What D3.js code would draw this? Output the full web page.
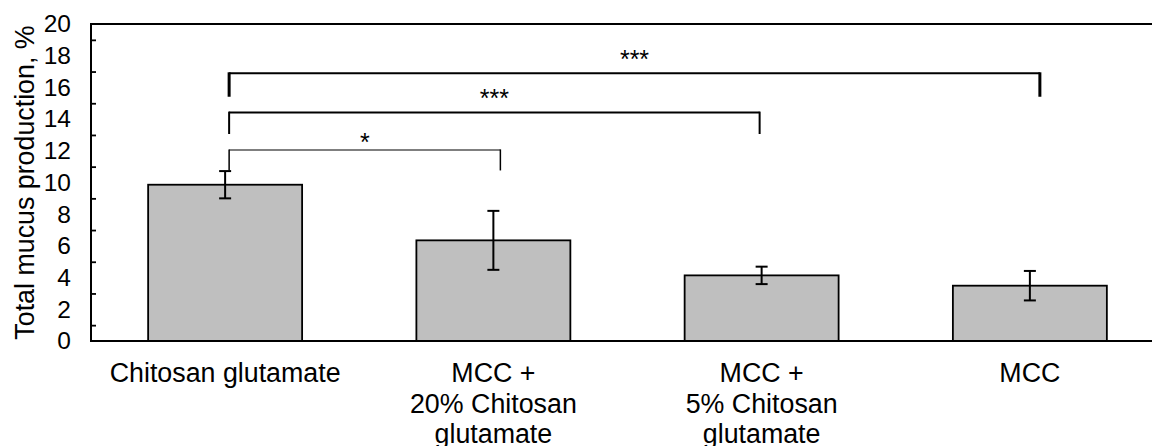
<!DOCTYPE html>
<html>
<head>
<meta charset="utf-8">
<script src="https://cdn.jsdelivr.net/npm/d3@7"></script>
<style>
  html, body { margin: 0; padding: 0; background: #fff; }
  svg { display: block; font-family: "Liberation Sans", Arial, sans-serif; }
</style>
</head>
<body>
<svg id="chart" width="1152" height="446"></svg>
<script>
// ---- data ----
const categories = ["Chitosan glutamate", "MCC + 20% Chitosan glutamate", "MCC + 5% Chitosan glutamate", "MCC"];
const categoryLines = [["Chitosan glutamate"], ["MCC +", "20% Chitosan", "glutamate"], ["MCC +", "5% Chitosan", "glutamate"], ["MCC"]];
const means = [9.86, 6.35, 4.14, 3.49];
const errors = [0.86, 1.86, 0.55, 0.93];
const yTicks = [0, 2, 4, 6, 8, 10, 12, 14, 16, 18, 20];
const yMinorTicks = [1, 3, 5, 7, 9, 11, 13, 15, 17, 19];
const yTitle = "Total mucus production, %";
// significance brackets
const bracketFrom = [0, 0, 0];
const bracketTo = [3, 2, 1];
const bracketLevel = [16.89, 14.41, 12.05];
const bracketDrop = [15.41, 13.06, 10.76];
const bracketLabels = ["***", "***", "*"];
const bracketLabelLevel = [17.2, 14.75, 11.98];

(function () {
// ---- layout ----
const svg = d3.select("#chart");
const mLeft = 91, mTop = 24, mBottom = 341, mRight = 1164;

const x = d3.scaleBand().domain(categories).range([mLeft, mRight])
  .paddingInner(0.426).paddingOuter(0.213);
const y = d3.scaleLinear().domain([0, 20]).range([mBottom, mTop]);

// bars
svg.append("g").selectAll("rect").data(categories).join("rect")
  .attr("x", d => x(d))
  .attr("y", (d, i) => y(means[i]))
  .attr("width", x.bandwidth())
  .attr("height", (d, i) => y(0) - y(means[i]))
  .attr("fill", "#bfbfbf")
  .attr("stroke", "#000")
  .attr("stroke-width", 1.8);

// error bars
const eg = svg.append("g").attr("stroke", "#000").attr("stroke-width", 2);
categories.forEach((c, i) => {
  const cx = x(c) + x.bandwidth() / 2;
  eg.append("line").attr("x1", cx).attr("x2", cx)
    .attr("y1", y(means[i] + errors[i])).attr("y2", y(means[i] - errors[i]));
  [means[i] + errors[i], means[i] - errors[i]].forEach(v => {
    eg.append("line").attr("x1", cx - 6).attr("x2", cx + 6)
      .attr("y1", y(v)).attr("y2", y(v));
  });
});

// frame: top, left, bottom
svg.append("line").attr("x1", mLeft).attr("x2", 1152).attr("y1", y(20)).attr("y2", y(20))
  .attr("stroke", "#000").attr("stroke-width", 1.8);
svg.append("line").attr("x1", mLeft).attr("x2", 1152).attr("y1", y(0)).attr("y2", y(0))
  .attr("stroke", "#000").attr("stroke-width", 2);
svg.append("line").attr("x1", mLeft).attr("x2", mLeft).attr("y1", y(20) - 1).attr("y2", y(0) + 1)
  .attr("stroke", "#000").attr("stroke-width", 2);

// y axis labels
const yAxis = d3.axisLeft(y).tickValues(yTicks).tickSize(0).tickPadding(20);
const ya = svg.append("g").attr("transform", `translate(${mLeft},0)`).call(yAxis);
ya.select(".domain").remove();
ya.selectAll("text").attr("font-size", 24.5).attr("fill", "#000")
  .attr("font-family", "Liberation Sans, Arial, sans-serif");

// minor inside ticks
const yMinor = d3.axisRight(y).tickValues(yMinorTicks).tickSize(5).tickFormat("");
const ym = svg.append("g").attr("transform", `translate(${mLeft},0)`).call(yMinor);
ym.select(".domain").remove();
ym.selectAll("line").attr("stroke", "#000").attr("stroke-width", 1.8);

// y title
svg.append("text")
  .attr("transform", `translate(34,${(y(0) + y(20)) / 2}) rotate(-90)`)
  .attr("text-anchor", "middle")
  .attr("font-size", 26.8)
  .attr("fill", "#000")
  .text(yTitle);

// category labels
categoryLines.forEach((lines, i) => {
  const cx = x(categories[i]) + x.bandwidth() / 2;
  const t = svg.append("text").attr("text-anchor", "middle")
    .attr("font-size", 26.8).attr("fill", "#000");
  lines.forEach((ln, j) => {
    t.append("tspan").attr("x", cx).attr("y", 382.3 + j * 30.3).text(ln);
  });
});

// significance brackets
const bw = [2, 2, 1.2];
const vw = [3, 2, 1.5];
const rightNudge = [10, -2, 7];
bracketFrom.forEach((f, k) => {
  const x1 = x(categories[f]) + x.bandwidth() / 2 + 4;
  const x2 = x(categories[bracketTo[k]]) + x.bandwidth() / 2 + rightNudge[k];
  const yl = y(bracketLevel[k]);
  const bg = svg.append("g").attr("stroke", "#000").attr("fill", "none");
  bg.append("line").attr("x1", x1).attr("x2", x2).attr("y1", yl).attr("y2", yl)
    .attr("stroke-width", bw[k]);
  bg.append("line").attr("x1", x1).attr("x2", x1).attr("y1", yl - bw[k] / 2).attr("y2", y(bracketDrop[k]))
    .attr("stroke-width", vw[k]);
  bg.append("line").attr("x1", x2).attr("x2", x2).attr("y1", yl - bw[k] / 2).attr("y2", y(bracketDrop[k]))
    .attr("stroke-width", vw[k]);
  svg.append("text").attr("x", (x1 + x2) / 2).attr("y", y(bracketLabelLevel[k]))
    .attr("text-anchor", "middle").attr("font-size", 25).attr("fill", "#000")
    .text(bracketLabels[k]);
});
})();
</script>
</body>
</html>
